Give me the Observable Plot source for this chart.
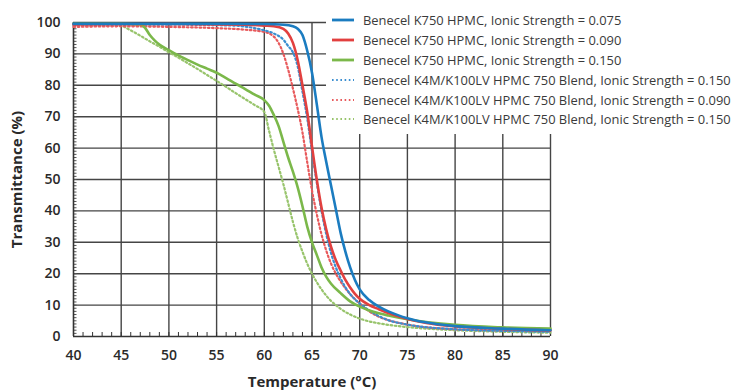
<!DOCTYPE html>
<html>
<head>
<meta charset="utf-8">
<script src="https://cdn.jsdelivr.net/npm/d3@7"></script>
<script src="https://cdn.jsdelivr.net/npm/@observablehq/plot@0.6"></script>
<style>
  html, body { margin: 0; padding: 0; background: #fff; }
  #wrap { position: relative; width: 738px; height: 390px; font-family: "Open Sans", sans-serif; }
  #legend { position: absolute; left: 326px; top: 0px; width: 412px; height: 134px; background: #fff; }
  .item { position: absolute; left: 6px; height: 18px; display: flex; align-items: center; font-size: 12.9px; color: #3a3a3a; white-space: nowrap; }
  .item svg { margin-right: 9px; }
</style>
</head>
<body>
<div id="wrap"><div id="legend"></div></div>
<script>
// Series names (legend order)
const seriesNames = [
  "Benecel K750 HPMC, Ionic Strength = 0.075",
  "Benecel K750 HPMC, Ionic Strength = 0.090",
  "Benecel K750 HPMC, Ionic Strength = 0.150",
  "Benecel K4M/K100LV HPMC 750 Blend, Ionic Strength = 0.150",
  "Benecel K4M/K100LV HPMC 750 Blend, Ionic Strength = 0.090",
  "Benecel K4M/K100LV HPMC 750 Blend, Ionic Strength = 0.150"
];
const seriesColors = ["#1b7cc0", "#e2403f", "#7bb84a", "#3a8ed0", "#e85a5c", "#98c46c"];
const seriesDashed = [false, false, false, true, true, true];

// [temperature °C, transmittance %]
const k750_075 = [[40,99.6],[55,99.6],[60,99.5],[62,99.3],[63,98.8],[63.5,98],[64,96],[64.5,91],[65,84],[65.5,74],[66,63.5],[66.5,55.5],[67,48],[67.5,40.5],[68,33],[68.5,27],[69,22],[69.5,18],[70,15],[71,11.6],[72,9.5],[73,8],[74,6.8],[75,5.8],[76,5],[78,4],[80,3.3],[85,2.5],[90,2]];
const k750_090 = [[40,99.4],[50,99.5],[58,99.3],[60,99],[61,98.8],[62,98],[62.5,96.5],[63,93.5],[63.5,88],[64,80],[64.5,71.5],[65,60.5],[65.5,50],[66,41],[66.5,34],[67,28.5],[67.5,24.3],[68,21],[68.5,18],[69,15.6],[69.5,13.6],[70,12],[71,10],[72,8.7],[73,7.5],[75,5.6],[77,4.3],[80,3.2],[85,2.4],[90,1.9]];
const k750_150 = [[40,99.6],[45,99.6],[47,99.4],[47.5,98.3],[48,96],[48.5,94.3],[49,93],[50,91.2],[51,89.5],[52,88],[53,86.6],[54,85.3],[55,84],[56,82.3],[57,80.5],[58,78.8],[59,77],[60,75.3],[60.5,73.5],[61,70.5],[61.5,67],[62,62],[62.5,57],[63,52.5],[63.5,47.5],[64,41.5],[64.5,35],[65,30],[65.5,26],[66,22],[66.5,19],[67,16.8],[68,13.8],[69,11.2],[70,9.5],[71,8.3],[72,7.4],[73,6.7],[75,5.5],[80,3.7],[85,2.9],[90,2.5]];
const blend_150a = [[40,99.2],[50,99.3],[57,99],[58,98.7],[59,98.2],[60,97.5],[61,96.5],[62,94.5],[62.5,92.5],[63,90.5],[63.5,86],[64,78],[64.5,69.5],[65,59],[65.5,49],[66,40],[66.5,32.5],[67,26.5],[67.5,22],[68,18.5],[68.5,15.7],[69,13.5],[70,10.5],[71,8.3],[72,6.5],[73,5.2],[75,3.8],[80,2.3],[85,1.8],[90,1.5]];
const blend_090 = [[40,98.6],[45,98.8],[50,98.6],[55,98.2],[58,97.7],[60,97],[61,95.5],[61.5,93.5],[62,90],[62.5,85],[63,79],[63.5,72.5],[64,65],[64.5,55.5],[65,46.5],[65.5,39],[66,32.5],[66.5,27.3],[67,23.2],[67.5,20],[68,17.5],[69,13.5],[70,10.5],[71,8],[72,6.3],[73,5.2],[75,3.8],[80,2.3],[85,1.9],[90,1.7]];
const blend_150b = [[40,99.5],[44,99.5],[45,99],[46,97.5],[47,95.8],[48,94],[49,92.3],[50,90.5],[51,88.8],[52,87],[53,85.2],[54,83.3],[55,81.4],[56,79.5],[57,77.5],[58,75.6],[59,73.7],[60,71.5],[60.5,65.5],[61,59.5],[61.5,54],[62,48.5],[62.5,42.5],[63,36.5],[63.5,31.3],[64,27],[64.5,23.2],[65,20],[65.5,17.3],[66,15],[66.5,13],[67,11.3],[67.5,10],[68,8.8],[69,7],[70,5.7],[71,4.8],[72,4.2],[73,3.7],[75,3],[80,2],[85,1.5],[90,1.2]];
const seriesData = [k750_075, k750_090, k750_150, blend_150a, blend_090, blend_150b];

const xTicks = d3.range(40, 91, 5);
const yTicks = d3.range(0, 101, 10);
const xMinor = d3.range(40, 91, 1);
const yMinor = d3.range(0, 101, 1);

const rows = seriesData.flatMap((pts, i) => pts.map(([t, v]) => ({series: i, t, v})));

// draw order: dotted under solid
const order = [5, 4, 3, 2, 1, 0];
const lineMarks = order.map(i => Plot.line(rows.filter(d => d.series === i), {
  x: "t", y: "v",
  stroke: seriesColors[i],
  strokeWidth: seriesDashed[i] ? 2.2 : 2.6,
  strokeDasharray: seriesDashed[i] ? "1.6,2.6" : null,
  curve: "monotone-x"
}));

const chart = Plot.plot({
  width: 738,
  height: 390,
  marginLeft: 73,
  marginRight: 188,
  marginTop: 22,
  marginBottom: 54,
  style: {fontFamily: "'Open Sans', sans-serif", color: "#2a2a2a", background: "#fff"},
  x: {domain: [40, 90]},
  y: {domain: [0, 100]},
  marks: [
    Plot.gridX(xTicks.slice(1), {stroke: "#454545", strokeOpacity: 1, strokeWidth: 1.4}),
    Plot.gridY(yTicks.slice(1), {stroke: "#454545", strokeOpacity: 1, strokeWidth: 1.4}),
    Plot.axisX(xMinor, {tickSize: 4, dy: -4, tickFormat: () => "", label: null, stroke: "#333"}),
    Plot.axisY(yMinor, {tickSize: 3.5, dx: 3.5, tickFormat: () => "", label: null, stroke: "#555"}),
    Plot.axisX(xTicks, {tickSize: 0, tickPadding: 14, fontSize: 14, fontWeight: 600,
      label: "Temperature (°C)", labelAnchor: "center", labelArrow: "none", labelOffset: 50}),
    Plot.axisY(yTicks, {tickSize: 0, tickPadding: 13, fontSize: 14, fontWeight: 600,
      label: "Transmittance (%)", labelAnchor: "center", labelArrow: "none", labelOffset: 62}),
    Plot.ruleX([40], {stroke: "#333", strokeWidth: 1.6}),
    Plot.ruleY([0], {stroke: "#333", strokeWidth: 1.6}),
    ...lineMarks
  ]
});
d3.select(chart).selectAll("g[aria-label='x-axis label'] text, g[aria-label='y-axis label'] text")
  .style("font-size", "15px").style("font-weight", "700");
document.getElementById("wrap").prepend(chart);

// legend
const legend = document.getElementById("legend");
const rowTops = [11, 31, 51, 71, 91, 110];
seriesNames.forEach((name, i) => {
  const div = document.createElement("div");
  div.className = "item";
  div.style.top = rowTops[i] + "px";
  const dash = seriesDashed[i] ? `stroke-dasharray="1.6,2.6"` : "";
  div.innerHTML = `<svg width="22" height="6"><line x1="0" x2="22" y1="3" y2="3" stroke="${seriesColors[i]}" stroke-width="${seriesDashed[i] ? 2.2 : 2.8}" ${dash}/></svg><span></span>`;
  div.querySelector("span").textContent = name;
  legend.appendChild(div);
});
</script>
</body>
</html>
